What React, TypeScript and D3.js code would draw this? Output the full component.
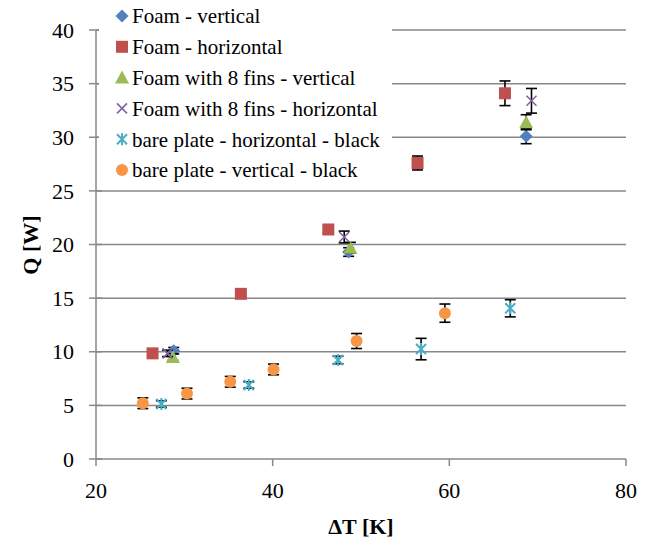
import React from "react";
import * as d3 from "d3";

// Foam - vertical
const foamVertX = [28.8, 48.6, 68.7];
const foamVertY = [10.1, 19.3, 30.1];
const foamVertErr = [0.3, 0.4, 0.7];

// Foam - horizontal
const foamHorX = [26.4, 36.4, 46.3, 56.4, 66.3];
const foamHorY = [9.85, 15.4, 21.4, 27.6, 34.1];
const foamHorErr = [0.25, 0.3, 0.3, 0.65, 1.15];

// Foam with 8 fins - vertical
const finsVertX = [28.7, 48.8, 68.7];
const finsVertY = [9.5, 19.7, 31.4];
const finsVertErr = [0.3, 0.5, 0.7];

// Foam with 8 fins - horizontal
const finsHorX = [28.1, 48.1, 69.3];
const finsHorY = [9.85, 20.7, 33.4];
const finsHorErr = [0.3, 0.55, 1.15];

// bare plate - horizontal - black
const bareHorX = [27.4, 37.3, 47.4, 56.8, 66.9];
const bareHorY = [5.13, 6.9, 9.23, 10.25, 14.05];
const bareHorErr = [0.3, 0.3, 0.35, 1.0, 0.8];

// bare plate - vertical - black
const bareVertX = [25.3, 30.3, 35.2, 40.1, 49.5, 59.5];
const bareVertY = [5.2, 6.1, 7.2, 8.35, 11.0, 13.6];
const bareVertErr = [0.5, 0.5, 0.5, 0.5, 0.7, 0.85];

const xTicks = [20, 40, 60, 80];
const yTicks = [0, 5, 10, 15, 20, 25, 30, 35, 40];

const series = [
  { name: "Foam - vertical", shape: "diamond", color: "#4F81BD", xs: foamVertX, ys: foamVertY, err: foamVertErr },
  { name: "Foam - horizontal", shape: "square", color: "#C0504D", xs: foamHorX, ys: foamHorY, err: foamHorErr },
  { name: "Foam with 8 fins - vertical", shape: "triangle", color: "#9BBB59", xs: finsVertX, ys: finsVertY, err: finsVertErr },
  { name: "Foam with 8 fins - horizontal", shape: "x", color: "#8064A2", xs: finsHorX, ys: finsHorY, err: finsHorErr },
  { name: "bare plate - horizontal - black", shape: "star", color: "#4BACC6", xs: bareHorX, ys: bareHorY, err: bareHorErr },
  { name: "bare plate - vertical - black", shape: "circle", color: "#F79646", xs: bareVertX, ys: bareVertY, err: bareVertErr },
];

const W = 657;
const H = 546;
const left = 96;
const right = 626;
const top = 30;
const bottom = 459;
const serif = { fontFamily: '"Liberation Serif", "Times New Roman", Times, "DejaVu Serif", serif' };
const gridColor = "#888888";

const x = d3.scaleLinear().domain([20, 80]).range([left, right]);
const y = d3.scaleLinear().domain([0, 40]).range([bottom, top]);

function Marker({ shape, color, cx, cy }: { shape: string; color: string; cx: number; cy: number }) {
  const t = `translate(${cx},${cy})`;
  if (shape === "diamond") {
    const r = 6.5;
    return <path transform={t} d={`M0,${-r}L${r},0L0,${r}L${-r},0Z`} fill={color} />;
  }
  if (shape === "square") {
    return <rect x={cx - 6} y={cy - 6} width={12} height={12} fill={color} />;
  }
  if (shape === "triangle") {
    return <path transform={t} d="M0,-7L7,6L-7,6Z" fill={color} />;
  }
  if (shape === "circle") {
    return <circle cx={cx} cy={cy} r={6} fill={color} />;
  }
  if (shape === "x") {
    const s = 5;
    return (
      <path transform={t} d={`M${-s},${-s}L${s},${s}M${-s},${s}L${s},${-s}`} stroke={color} strokeWidth={1.6} fill="none" />
    );
  }
  // star: X plus vertical stroke
  const s = 5;
  return (
    <path
      transform={t}
      d={`M${-s},${-s}L${s},${s}M${-s},${s}L${s},${-s}M0,${-s - 1}L0,${s + 1}`}
      stroke={color}
      strokeWidth={2}
      fill="none"
    />
  );
}

export default function App() {
  return (
    <svg width={W} height={H} style={{ position: "absolute", left: 0, top: 0, background: "#fff" }}>
      {/* horizontal gridlines */}
      {yTicks.slice(1).map((t) => (
        <line key={"g" + t} x1={left} x2={right} y1={y(t)} y2={y(t)} stroke={gridColor} strokeWidth={1.5} />
      ))}
      {/* y axis */}
      <line x1={left} x2={left} y1={top} y2={bottom} stroke={gridColor} strokeWidth={1.5} />
      {yTicks.map((t) => (
        <line key={"yt" + t} x1={left - 7} x2={left + 6} y1={y(t)} y2={y(t)} stroke={gridColor} strokeWidth={1.5} />
      ))}
      {/* x axis */}
      <line x1={left} x2={right} y1={bottom} y2={bottom} stroke={gridColor} strokeWidth={1.5} />
      {xTicks.map((t) => (
        <line key={"xt" + t} x1={x(t)} x2={x(t)} y1={bottom} y2={bottom + 7} stroke={gridColor} strokeWidth={1.5} />
      ))}

      {/* legend background covers grid */}
      <rect x={99} y={0} width={293} height={189} fill="#fff" />

      {/* tick labels */}
      {yTicks.map((t) => (
        <text key={"yl" + t} x={74} y={y(t)} dy="0.35em" textAnchor="end" style={serif} fontSize={22}>
          {t}
        </text>
      ))}
      {xTicks.map((t) => (
        <text key={"xl" + t} x={x(t)} y={498} textAnchor="middle" style={serif} fontSize={22}>
          {t}
        </text>
      ))}

      {/* axis titles */}
      <text x={361} y={534} textAnchor="middle" style={serif} fontSize={22} fontWeight="bold">
        ΔT [K]
      </text>
      <text transform={`translate(38,245) rotate(-90)`} textAnchor="middle" style={serif} fontSize={22} fontWeight="bold">
        Q [W]
      </text>

      {/* series */}
      {series.map((s) => (
        <g key={s.name}>
          {s.xs.map((xv, i) => {
            const cx = x(xv);
            const y1 = y(s.ys[i] + s.err[i]);
            const y2 = y(s.ys[i] - s.err[i]);
            return (
              <g key={"e" + i} stroke="#000" strokeWidth={1.6}>
                <line x1={cx} x2={cx} y1={y1} y2={y2} />
                <line x1={cx - 5.5} x2={cx + 5.5} y1={y1} y2={y1} />
                <line x1={cx - 5.5} x2={cx + 5.5} y1={y2} y2={y2} />
              </g>
            );
          })}
          {s.xs.map((xv, i) => (
            <Marker key={"m" + i} shape={s.shape} color={s.color} cx={x(xv)} cy={y(s.ys[i])} />
          ))}
        </g>
      ))}

      {/* legend */}
      {series.map((s, i) => {
        const ly = 16 + i * 30.8;
        return (
          <g key={"l" + s.name}>
            <Marker shape={s.shape} color={s.color} cx={122} cy={ly} />
            <text x={132} y={ly} dy="0.35em" style={serif} fontSize={21}>
              {s.name}
            </text>
          </g>
        );
      })}
    </svg>
  );
}
